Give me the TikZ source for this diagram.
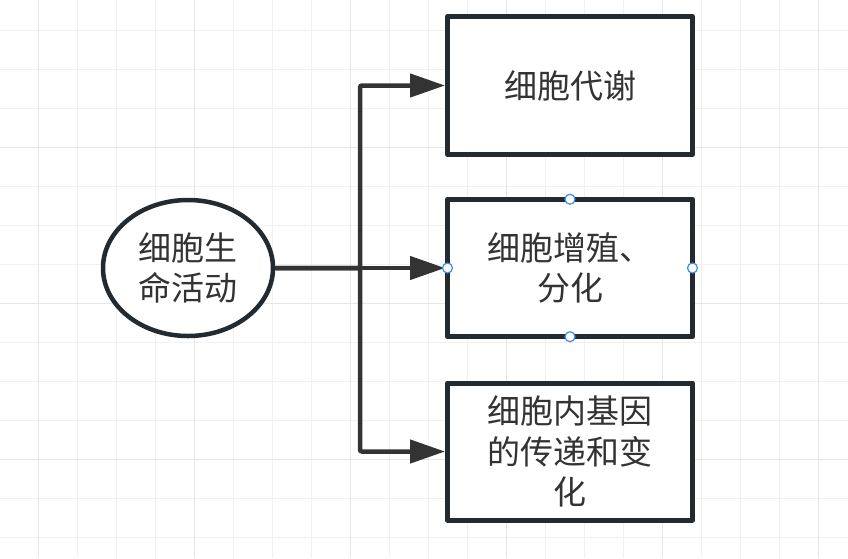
\documentclass[tikz,border=0pt]{standalone}
\usepackage{fontspec}
\setmainfont{Noto Sans CJK SC}
\usetikzlibrary{arrows.meta,shapes.geometric}
\definecolor{gridminor}{HTML}{F1F1F1}
\definecolor{gridmajor}{HTML}{E6E6E6}
\definecolor{boxline}{HTML}{232A30}
\definecolor{connline}{HTML}{333333}
\definecolor{txt}{HTML}{333333}
\definecolor{handleblue}{HTML}{3D8BF2}
\begin{document}
\begin{tikzpicture}[x=1pt,y=-1pt,
  minorline/.style={gridminor,line width=1.5pt},
  majorline/.style={gridmajor,line width=1.5pt},
  boxnode/.style={draw=boxline,fill=white,line width=5pt,rectangle,minimum width=245pt,
    inner sep=0pt,align=center,text=txt,font=\fontsize{33}{40.5}\selectfont,line join=round},
  ellnode/.style={draw=boxline,fill=white,line width=4.5pt,ellipse,minimum width=170pt,minimum height=136pt,
    inner sep=0pt,align=center,text=txt,font=\fontsize{33}{39.5}\selectfont},
  conn/.style={draw=connline,line width=4.5pt,rounded corners=2pt,-{Triangle[length=35pt,width=23pt]}},
  handle/.style={circle,draw=handleblue,fill=white,line width=1.2pt,minimum size=10pt,inner sep=0pt}]
\useasboundingbox (0,0) rectangle (848,558);
\fill[white] (0,0) rectangle (848,558);
\foreach \k in {-1,...,21} \draw[minorline] ({38.5+39*\k},0) -- ({38.5+39*\k},558);
\foreach \k in {-1,...,14} \draw[minorline] (0,{30.7+39*\k}) -- (848,{30.7+39*\k});
\foreach \xx in {38.5,194.5,350.5,506.5,662.5,818.5} \draw[majorline] (\xx,0) -- (\xx,558);
\foreach \yy in {147.7,303.7,459.7} \draw[majorline] (0,\yy) -- (848,\yy);

\node[ellnode] (ell) at (188,268) {细胞生\\命活动};
\node[boxnode,minimum height=138pt] (top) at (570,85.5) {细胞代谢};
\node[boxnode,minimum height=137.5pt] (mid) at (570,268) {细胞增殖、\\分化};
\node[boxnode,minimum height=137pt] (bot) at (570,451.5) {细胞内基因\\的传递和变\\化};

\coordinate (jn) at (360,268);
\draw[conn] (ell.east) -- (mid.west);
\draw[conn] (ell.east) -- (jn) |- (top.west);
\draw[conn] (ell.east) -- (jn) |- (bot.west);

\node[handle] (h1) at (570,199.2) {};
\node[handle] (h2) at (570,336.7) {};
\node[handle] (h3) at (447.5,268) {};
\node[handle] (h4) at (692.5,268) {};
\end{tikzpicture}
\end{document}
